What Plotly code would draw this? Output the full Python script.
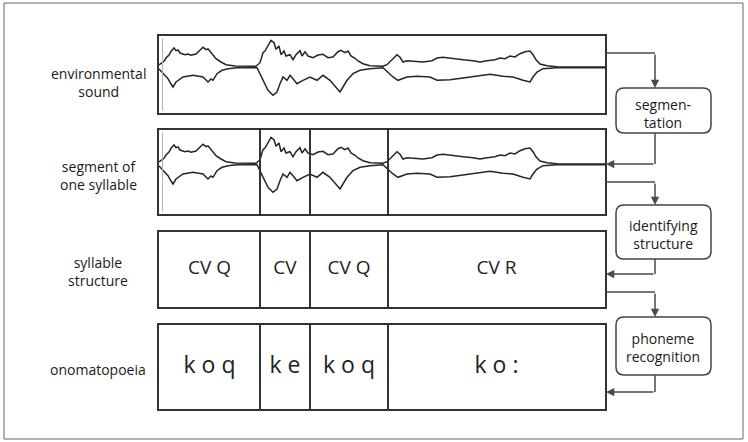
import plotly.graph_objects as go

# ---------------- data ----------------
# envelope of the environmental sound (time in frames, amplitude in arbitrary units)
upper_t = [0, 5, 7, 10, 12, 15, 17, 19, 21, 26, 29, 32, 37, 39, 41, 44, 47, 49, 51, 54, 57, 62, 67, 76, 86, 97,
           101, 104, 106, 109, 112, 115, 117, 120, 122, 125, 127, 131, 134, 137, 141, 143, 146, 149,
           154, 159, 164, 169, 174, 179, 182, 186, 189, 192, 196, 199, 204, 211, 224,
           228, 233, 238, 241, 244, 248, 254, 264, 273, 278, 284, 294, 304, 314, 321, 328, 336,
           341, 346, 351, 356, 361, 366, 371, 374, 377, 381, 388, 398, 434, 446]
upper_a = [2, 5.7, 9, 12, 15.7, 19, 16.3, 17, 14, 12.3, 13, 11.7, 13, 15, 16.3, 19.7, 17.3, 18, 15.7, 12.3, 8.3, 5,
           2.3, 1, 0.7, 0.7,
           4.3, 14.3, 16, 21, 26.7, 24.3, 17.7, 21, 12.3, 16, 11, 12.3, 7.3, 12.3, 16.3, 11, 15.3, 11,
           9.3, 12, 12.7, 9.3, 10, 15.3, 16.7, 14.3, 16, 11, 8.7, 6, 3.3, 1.3, 0.7,
           2.3, 7.3, 12.3, 9.7, 5, 6.3, 5.7, 5, 6.3, 9, 9.7, 8.3, 7.3, 6.3, 5, 6.3, 7.3,
           9, 8.3, 11, 10, 13.3, 15.3, 16, 12.3, 7.3, 3, 1.3, 0.3, 0, 0]
lower_t = [0, 4, 9, 12, 14, 17, 19, 24, 34, 44, 47, 49, 52, 54, 58, 63, 69, 78, 98,
           101, 104, 109, 114, 118, 121, 124, 128, 131, 134, 138, 144, 151, 158, 164, 171, 178, 181,
           184, 188, 191, 194, 201, 211, 224,
           229, 234, 239, 248, 258, 271, 278, 291, 304, 318, 331, 344, 354, 364, 371, 374, 378, 384,
           398, 446]
lower_a = [-2, -6.7, -11.7, -17, -20, -15, -13.3, -10, -8.3, -10, -13, -15, -12, -13.3, -6.7, -3.3, -1.7,
           -0.7, -0.7,
           -6.7, -13.3, -23.3, -28.3, -25, -16.7, -10, -13.3, -8.3, -11.7, -16.7, -13.3, -10, -13.3, -8.3,
           -13.3, -21.7, -25, -20, -13.3, -10, -6.7, -3.3, -1.7, -0.7,
           -5, -10, -13.3, -10, -9.3, -10, -13.3, -12.7, -11, -9.3, -7.3, -9.3, -10, -13.3, -15, -10, -5,
           -1.7, -0.7, -0.7]

# syllable segmentation (frame boundaries)
segment_bounds = [0, 101, 151, 229, 446]
structure_labels = ["CV Q", "CV", "CV Q", "CV R"]
onomatopoeia_labels = ["k o q", "k e", "k o q", "k o :"]

row_labels = ["environmental<br>sound", "segment of<br>one syllable",
              "syllable<br>structure", "onomatopoeia"]
process_labels = ["segmen-<br>tation", "identifying<br>structure", "phoneme<br>recognition"]

# ---------------- layout helpers ----------------
W, H = 748, 442


def px(x):
    return x / W


def py(y):
    return 1 - y / H


FONT = "Open Sans"
LINE = "#333333"
CONN = "#4a4a4a"

fig = go.Figure()

# waveforms in rows 1 and 2
for xa, ya in [("x", "y"), ("x2", "y2")]:
    for t, a in [(upper_t, upper_a), (lower_t, lower_a)]:
        fig.add_trace(go.Scatter(x=t, y=a, xaxis=xa, yaxis=ya, mode="lines",
                                 line=dict(color="#262626", width=1.5),
                                 hoverinfo="skip", showlegend=False))

mids = [(segment_bounds[i] + segment_bounds[i + 1]) / 2 for i in range(len(segment_bounds) - 1)]
fig.add_trace(go.Scatter(x=mids, y=[0.5] * len(mids), text=structure_labels, mode="text",
                         xaxis="x3", yaxis="y3", textposition="middle center",
                         textfont=dict(family=FONT, size=19, color="#222"),
                         hoverinfo="skip", showlegend=False))
fig.add_trace(go.Scatter(x=mids, y=[0.5] * len(mids), text=onomatopoeia_labels, mode="text",
                         xaxis="x4", yaxis="y4", textposition="middle center",
                         textfont=dict(family=FONT, size=23, color="#222"),
                         hoverinfo="skip", showlegend=False))

common = dict(showline=True, mirror=True, linecolor=LINE, linewidth=2, showgrid=False,
              zeroline=False, showticklabels=False, ticks="", fixedrange=True)
xdom = [px(159), px(605)]
xr = [segment_bounds[0], segment_bounds[-1]]
rows = [((36, 113), [-46, 31]), ((130, 214), [-50, 34]), ((232, 307), [0, 1]), ((325, 409), [0, 1])]
lay = {}
for i, ((top, bot), yr) in enumerate(rows):
    s = "" if i == 0 else str(i + 1)
    lay["xaxis" + s] = dict(domain=xdom, range=xr, anchor="y" + s, **common)
    lay["yaxis" + s] = dict(domain=[py(bot), py(top)], range=yr, anchor="x" + s, **common)

shapes = []
# faint time-axis line inside the two waveform panels
for s in ["", "2"]:
    shapes.append(dict(type="line", xref="x" + s + " domain", yref="y" + s + " domain",
                       x0=0.008, x1=0.008, y0=0.03, y1=0.97, line=dict(color="#b0b0b0", width=1)))
# segment dividers in rows 2-4
for s in ["2", "3", "4"]:
    for b in segment_bounds[1:-1]:
        shapes.append(dict(type="line", xref="x" + s, yref="y" + s + " domain",
                           x0=b, x1=b, y0=0, y1=1, line=dict(color=LINE, width=2)))

# outer frame
shapes.append(dict(type="rect", xref="paper", yref="paper", x0=px(4), x1=px(743),
                   y0=py(439), y1=py(3), line=dict(color="#666", width=1)))

# rounded process boxes
boxes = [(616, 88, 711, 133), (616, 205, 711, 259), (616, 317, 711, 375)]
r = 8
for (x0, y0, x1, y1) in boxes:
    p = (f"M {px(x0 + r)},{py(y0)} L {px(x1 - r)},{py(y0)} Q {px(x1)},{py(y0)} {px(x1)},{py(y0 + r)} "
         f"L {px(x1)},{py(y1 - r)} Q {px(x1)},{py(y1)} {px(x1 - r)},{py(y1)} "
         f"L {px(x0 + r)},{py(y1)} Q {px(x0)},{py(y1)} {px(x0)},{py(y1 - r)} "
         f"L {px(x0)},{py(y0 + r)} Q {px(x0)},{py(y0)} {px(x0 + r)},{py(y0)} Z")
    shapes.append(dict(type="path", xref="paper", yref="paper", path=p,
                       line=dict(color="#444", width=1.5), fillcolor="white"))

annotations = []
connectors = [[(606, 53), (655, 53), (655, 88)],
              [(655, 133), (655, 164), (606, 164)],
              [(606, 182), (655, 182), (655, 205)],
              [(655, 259), (655, 274), (606, 274)],
              [(606, 292), (655, 292), (655, 317)],
              [(655, 375), (655, 392), (606, 392)]]
for (a, b, c) in connectors:
    shapes.append(dict(type="line", xref="paper", yref="paper", x0=px(a[0]), y0=py(a[1]),
                       x1=px(b[0]), y1=py(b[1]), line=dict(color=CONN, width=1.5)))
    annotations.append(dict(xref="paper", yref="paper", x=px(c[0]), y=py(c[1]), text="",
                            showarrow=True, ax=b[0] - c[0], ay=b[1] - c[1], axref="pixel", ayref="pixel",
                            arrowhead=2, arrowsize=1.1, arrowwidth=1.5, arrowcolor=CONN, standoff=0))

# row labels (left)
row_y = [82, 176, 271, 369]
for t, y in zip(row_labels, row_y):
    annotations.append(dict(xref="paper", yref="paper", x=px(98), y=py(y), text=t,
                            showarrow=False, xanchor="center", yanchor="middle", borderpad=0,
                            font=dict(family=FONT, size=14, color="#1a1a1a")))

# process labels (right)
proc_y = [114, 234, 347]
for t, y in zip(process_labels, proc_y):
    annotations.append(dict(xref="paper", yref="paper", x=px(663), y=py(y), text=t,
                            showarrow=False, xanchor="center", yanchor="middle", borderpad=0,
                            font=dict(family=FONT, size=14, color="#1a1a1a")))

fig.update_layout(width=W, height=H, margin=dict(l=0, r=0, t=0, b=0),
                  paper_bgcolor="white", plot_bgcolor="white", showlegend=False,
                  shapes=shapes, annotations=annotations, **lay)

fig.write_html("out.html", config={"displayModeBar": False},
               post_script="document.body.style.margin='0px';")
